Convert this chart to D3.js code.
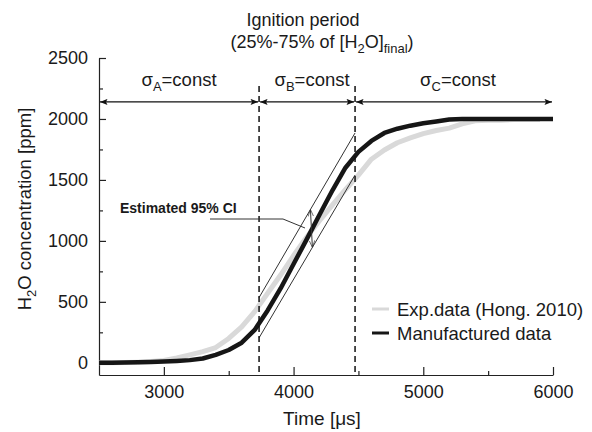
<!DOCTYPE html>
<html><head><meta charset="utf-8">
<script src="https://cdn.jsdelivr.net/npm/d3@7"></script>
<style>body{margin:0;background:#fff}svg{display:block}text{font-family:"Liberation Sans",Arial,sans-serif;fill:#1a1a1a}</style>
</head><body>
<script>
// ---- data ----
const timeMan = [2500,2600,2700,2800,2900,3000,3100,3200,3300,3400,3500,3600,3700,3800,3900,4000,4100,4200,4300,4400,4500,4600,4700,4800,4900,5000,5100,5200,5300,5400,5500,5600,5700,5800,5900,6000];
const manufactured = [0,0,2,4,6,10,15,22,35,65,105,165,270,430,610,810,1010,1215,1415,1600,1730,1820,1885,1920,1945,1965,1980,1995,2000,2000,2000,2000,2000,2000,2000,2000];
const timeExp = [2500,2600,2700,2800,2900,3000,3100,3200,3300,3400,3500,3600,3700,3800,3900,4000,4100,4200,4300,4400,4500,4600,4700,4800,4900,5000,5100,5200,5300,5400,5500,5600,5700,5800,5900];
const experimental = [0,0,2,5,10,20,40,65,92,125,200,295,420,570,720,880,1030,1165,1295,1420,1540,1670,1745,1805,1845,1880,1905,1925,1960,1985,1990,1990,1995,1995,1995];
const ciTime = [3734, 4474];
const ciUpper = [535, 1885];
const ciLower = [205, 1540];
const ciArrowTime = [4130, 4145];
const periodBounds = [2500, 3734, 4474, 6000];
const periodLabels = ["A", "B", "C"];
const xMajorTicks = [3000, 4000, 5000, 6000];
const xMinorTicks = [3500, 4500, 5500];
const yMajorTicks = [0, 500, 1000, 1500, 2000, 2500];
const yMinorTicks = [250, 750, 1250, 1750, 2250];
const legendLabels = ["Exp.data (Hong. 2010)", "Manufactured data"];
const colors = {exp: "#d9d9d9", man: "#161616"};

const W = 592, H = 432;
const svg = d3.select("body").append("svg").attr("width", W).attr("height", H);
const x = d3.scaleLinear().domain([2500, 6000]).range([99, 553]);
const y = d3.scaleLinear().domain([-100, 2500]).range([375, 58]);

const defs = svg.append("defs");
defs.append("marker").attr("id", "ah").attr("viewBox", "0 0 10 8")
  .attr("refX", 10).attr("refY", 4).attr("markerWidth", 8).attr("markerHeight", 6)
  .attr("markerUnits", "userSpaceOnUse").attr("orient", "auto-start-reverse")
  .append("path").attr("d", "M0,0 L10,4 L0,8 L2,4 Z").attr("fill", "#111");
defs.append("marker").attr("id", "ahs").attr("viewBox", "0 0 10 8")
  .attr("refX", 10).attr("refY", 4).attr("markerWidth", 7).attr("markerHeight", 6)
  .attr("markerUnits", "userSpaceOnUse").attr("orient", "auto-start-reverse")
  .append("path").attr("d", "M0,0 L10,4 L0,8").attr("fill", "none").attr("stroke", "#333").attr("stroke-width", 1);

// axes
svg.append("g").attr("transform", `translate(0,${y.range()[0]})`)
  .call(d3.axisBottom(x).tickValues(xMajorTicks).tickSizeInner(-8).tickSizeOuter(0).tickPadding(10).tickFormat(d3.format("d")));
svg.append("g").attr("transform", `translate(0,${y.range()[0]})`)
  .call(d3.axisBottom(x).tickValues(xMinorTicks).tickSizeInner(-4).tickSizeOuter(0).tickFormat(""))
  .select(".domain").remove();
svg.append("g").attr("transform", `translate(${x.range()[0]},0)`)
  .call(d3.axisLeft(y).tickValues(yMajorTicks).tickSizeInner(-7).tickSizeOuter(0).tickPadding(11).tickFormat(d3.format("d")));
svg.append("g").attr("transform", `translate(${x.range()[0]},0)`)
  .call(d3.axisLeft(y).tickValues(yMinorTicks).tickSizeInner(-4).tickSizeOuter(0).tickFormat(""))
  .select(".domain").remove();
svg.selectAll(".tick text").attr("font-size", 18).attr("font-family", "Liberation Sans, Arial, sans-serif").attr("fill", "#1a1a1a");
svg.selectAll(".domain, .tick line").attr("stroke", "#222").attr("stroke-width", 1.2);

// curves
const line = d3.line().x(d => x(d[0])).y(d => y(d[1]));
svg.append("path").datum(d3.zip(timeExp, experimental)).attr("d", line)
  .attr("fill", "none").attr("stroke", colors.exp).attr("stroke-width", 5).attr("stroke-linejoin", "round");
svg.append("path").datum(d3.zip(timeMan, manufactured)).attr("d", line)
  .attr("fill", "none").attr("stroke", colors.man).attr("stroke-width", 4.5).attr("stroke-linejoin", "round");

// CI lines
[ciUpper, ciLower].forEach(arr => {
  svg.append("path").datum(d3.zip(ciTime, arr)).attr("d", line)
    .attr("fill", "none").attr("stroke", "#333").attr("stroke-width", 1);
});
const interp = (arr, t) => arr[0] + (arr[1] - arr[0]) * (t - ciTime[0]) / (ciTime[1] - ciTime[0]);
svg.append("line")
  .attr("x1", x(ciArrowTime[0])).attr("y1", y(interp(ciUpper, ciArrowTime[0])))
  .attr("x2", x(ciArrowTime[1])).attr("y2", y(interp(ciLower, ciArrowTime[1])))
  .attr("stroke", "#333").attr("stroke-width", 1)
  .attr("marker-start", "url(#ahs)").attr("marker-end", "url(#ahs)");

// dashed period boundaries
[periodBounds[1], periodBounds[2]].forEach(t => {
  svg.append("line").attr("x1", x(t)).attr("x2", x(t)).attr("y1", y(2270)).attr("y2", y(-100))
    .attr("stroke", "#111").attr("stroke-width", 1.5).attr("stroke-dasharray", "6,4");
});
// period arrows
const labelShift = [0, 5, 4];
for (let i = 0; i < 3; i++) {
  svg.append("line").attr("x1", x(periodBounds[i]) + 1).attr("x2", x(periodBounds[i + 1]) - 1)
    .attr("y1", y(2140)).attr("y2", y(2140)).attr("stroke", "#111").attr("stroke-width", 1.2)
    .attr("marker-start", "url(#ah)").attr("marker-end", "url(#ah)");
  const t = svg.append("text").attr("x", (x(periodBounds[i]) + x(periodBounds[i + 1])) / 2 + labelShift[i])
    .attr("y", 86).attr("text-anchor", "middle").attr("font-size", 18.5);
  t.append("tspan").text("σ");
  t.append("tspan").attr("dy", 5).attr("font-size", 13).text(periodLabels[i]);
  t.append("tspan").attr("dy", -5).text("=const");
}

// title
svg.append("text").attr("x", 303).attr("y", 26).attr("text-anchor", "middle").attr("font-size", 18).text("Ignition period");
const t2 = svg.append("text").attr("x", 322).attr("y", 48).attr("text-anchor", "middle").attr("font-size", 18);
t2.append("tspan").text("(25%-75% of [H");
t2.append("tspan").attr("dy", 5).attr("font-size", 13).text("2");
t2.append("tspan").attr("dy", -5).text("O]");
t2.append("tspan").attr("dy", 5).attr("font-size", 13).text("final");
t2.append("tspan").attr("dy", -5).text(")");

// axis titles
const yl = svg.append("text").attr("transform", "translate(31,209) rotate(-90)").attr("text-anchor", "middle").attr("font-size", 18.5);
yl.append("tspan").text("H");
yl.append("tspan").attr("dy", 5).attr("font-size", 13).text("2");
yl.append("tspan").attr("dy", -5).text("O concentration [ppm]");
svg.append("text").attr("x", 322).attr("y", 425).attr("text-anchor", "middle").attr("font-size", 19).text("Time [μs]");

// CI annotation
svg.append("text").attr("x", 120).attr("y", 213).attr("font-family", "DejaVu Sans, sans-serif")
  .attr("font-weight", "bold").attr("font-size", 14).text("Estimated 95% CI");
svg.append("polyline").attr("points", `210,219 283,219 305,228`).attr("fill", "none").attr("stroke", "#333").attr("stroke-width", 1);

// legend
const lg = svg.append("g");
[colors.exp, colors.man].forEach((c, i) => {
  const yy = 309 + i * 24;
  lg.append("line").attr("x1", 372).attr("x2", 389).attr("y1", yy).attr("y2", yy).attr("stroke", c).attr("stroke-width", 3);
  lg.append("text").attr("x", 397).attr("y", yy + 6.5).attr("font-size", 18.5).text(legendLabels[i]);
});
</script>
</body></html>
